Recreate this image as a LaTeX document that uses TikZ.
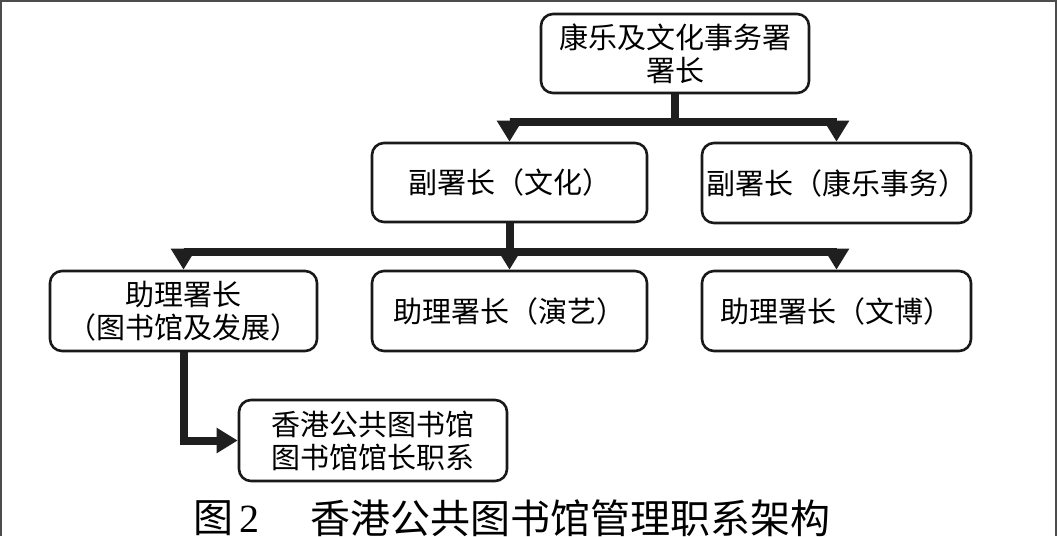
\documentclass[tikz,border=0pt]{standalone}
\usepackage{fontspec}
\setmainfont{Noto Sans CJK SC}
\newfontfamily\numfont{Liberation Serif}
\usetikzlibrary{arrows.meta}
\begin{document}
\begin{tikzpicture}[x=1pt,y=-1pt,
  box/.style={draw=black!90,line width=2.6pt,rounded corners=12pt,fill=white,align=center,
    font=\fontsize{29}{33}\selectfont,inner sep=0pt},
  conn/.style={draw=black!88,line width=8pt,-{Triangle[width=24pt,length=21pt]}},
  framec/.style={draw=black!70,line width=2pt}]
\useasboundingbox (0,0) rectangle (1058,536);
\fill[white] (0,0) rectangle (1058,536);
\draw[framec] (1,536) -- (1,1) -- (1056,1) -- (1056,536);

\node[box,minimum width=268pt,minimum height=79pt] (top) at (675,53.5) {康乐及文化事务署\\署长};
\node[box,minimum width=275pt,minimum height=79pt] (a) at (509.5,182.5) {副署长（文化）};
\node[box,minimum width=269pt,minimum height=80pt] (b) at (836.5,183) {副署长（康乐事务）};
\node[box,minimum width=267pt,minimum height=80pt] (c) at (183.5,311) {助理署长\\（图书馆及发展）};
\node[box,minimum width=275pt,minimum height=80pt] (d) at (509.5,311) {助理署长（演艺）};
\node[box,minimum width=269pt,minimum height=80pt] (e) at (836.5,311) {助理署长（文博）};
\node[box,minimum width=268pt,minimum height=81pt] (f) at (373,440.5) {香港公共图书馆\\图书馆馆长职系};

\draw[conn] (top.south) -- ++(0,28) -| (a.north);
\draw[conn] (top.south) -- ++(0,28) -| (b.north);
\draw[conn] (a.south) -- ++(0,29) -| (c.north);
\draw[conn] (a.south) -- ++(0,29) -| (d.north);
\draw[conn] (a.south) -- ++(0,29) -| (e.north);
\draw[conn] (c.south) |- (f.west);

\node[anchor=west,font=\fontsize{40}{44}\selectfont,inner sep=0pt] (cap1) at (193,518) {图\,{\numfont 2}};
\node[anchor=west,font=\fontsize{40}{44}\selectfont,inner sep=0pt] (cap2) at (310,518) {香港公共图书馆管理职系架构};
\end{tikzpicture}
\end{document}
